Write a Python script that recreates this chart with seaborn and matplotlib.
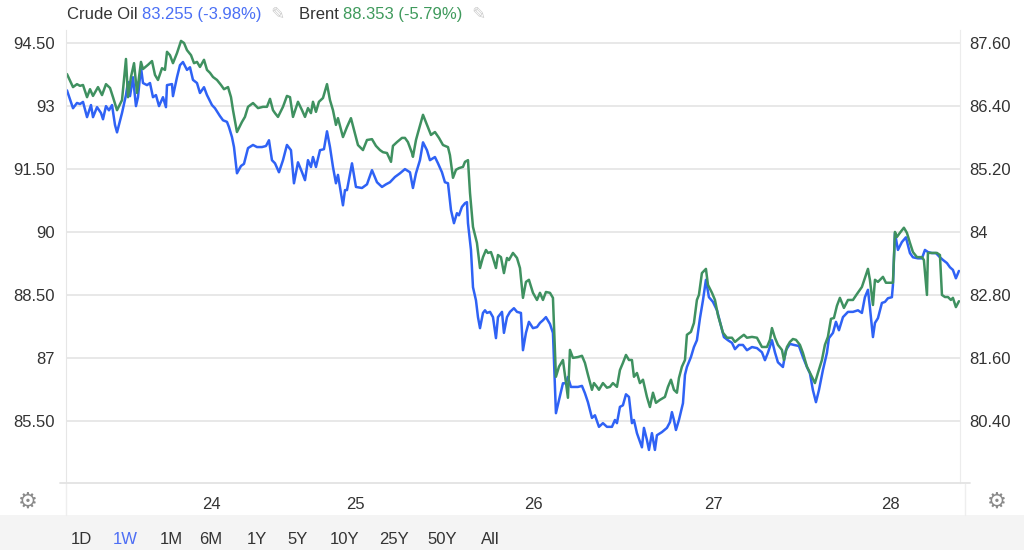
import numpy as np
import pandas as pd
import seaborn as sns
import matplotlib.pyplot as plt
from matplotlib.lines import Line2D
from matplotlib.patches import Rectangle
from matplotlib.ticker import FuncFormatter

sns.set_style("white")
plt.rcParams['font.family'] = ['Liberation Sans', 'DejaVu Sans']

# Brent (left axis), trading hours since start of window
brent_hours = [0.13, 0.94, 1.47, 1.88, 2.28, 2.82, 3.22, 3.62, 4.29, 4.83, 5.36, 5.90, 6.30, 6.84, 7.51, 8.04, 8.31, 8.71, 9.12, 9.52,
               10.05, 10.32, 10.99, 11.53, 11.93, 12.33, 12.87, 13.27, 13.54, 13.94, 14.34, 14.88, 15.42, 15.82, 16.22, 16.76, 17.16, 17.56, 17.96, 18.50,
               18.90, 19.30, 19.71, 20.24, 20.78, 21.18, 21.72, 22.12, 22.39, 22.92,
               23.59, 23.99, 24.40, 25.07, 25.74, 26.41, 26.94, 27.35, 27.75, 28.02, 28.42, 29.09, 29.62, 30.03, 30.43, 31.10, 31.64, 32.04, 32.44, 32.84,
               33.11, 33.51, 33.91, 34.45, 34.99, 35.39, 35.79, 36.19, 36.46, 37.13, 37.67, 38.20, 38.61, 39.14, 39.81, 40.35, 41.02, 41.55, 42.09, 42.49,
               43.03, 43.57, 43.83, 44.37, 45.04,
               45.44, 45.84, 46.38, 46.51, 46.92, 47.18, 47.86, 48.39, 48.93, 49.46, 50.00, 50.54, 51.21, 51.47, 51.88, 52.28, 52.68, 53.22, 53.49, 53.89,
               54.16, 54.56, 55.09, 55.50, 55.90, 56.30, 56.57, 56.97, 57.24, 57.64, 57.91, 58.31, 58.71, 59.12, 59.38, 59.92, 60.46, 60.86, 61.26, 61.66,
               62.06, 62.60, 63.14, 63.54, 63.94, 64.34, 64.88, 65.28, 65.68, 66.09, 66.62, 67.29, 67.56, 67.96,
               68.63, 69.17, 69.57, 69.97, 70.51, 70.78, 71.18, 71.45, 71.98, 72.52, 72.92, 73.32, 73.86, 74.26, 74.66, 75.07, 75.47, 75.87, 76.14, 76.54,
               76.94, 77.35, 77.88, 78.28, 78.69, 79.09, 79.62, 80.29, 80.70, 81.10, 81.50, 81.90, 82.17, 82.57, 82.98, 83.24, 83.78, 84.18, 84.58, 84.85,
               85.25, 85.79, 86.06, 86.60, 87.00, 87.40, 88.07, 88.61, 89.28, 89.68, 90.35, 90.88, 91.29, 91.96, 92.63, 93.30, 93.97, 94.37, 94.64, 95.04,
               95.44, 95.98, 96.25, 96.65, 97.05, 97.45, 97.86, 98.39, 98.79, 99.33, 100.00, 100.40, 100.80, 101.34, 101.74, 102.14, 102.55, 102.95, 103.35, 103.75,
               104.29, 104.83, 105.50, 106.03, 106.70, 107.10, 107.51, 107.77, 108.18, 108.45, 108.85, 109.52, 109.92, 110.46, 110.86, 111.13, 111.39, 111.80, 112.33, 112.73,
               113.14, 113.54, 114.08, 114.75, 115.01, 115.42, 115.55, 116.09, 116.76, 117.16, 117.43, 117.83, 118.23, 118.63, 118.90, 119.30, 119.71]
brent_price = [93.76, 93.45, 93.52, 93.48, 93.50, 93.21, 93.40, 93.24, 93.45, 93.26, 93.52, 93.43, 93.21, 92.90, 93.14, 94.12, 93.21, 93.69, 94.02, 93.31,
               94.05, 93.88, 93.98, 94.07, 93.74, 93.62, 93.90, 93.86, 94.29, 94.21, 94.02, 94.26, 94.55, 94.50, 94.33, 94.21, 94.02, 94.05, 93.93, 94.10,
               93.86, 93.79, 93.69, 93.62, 93.50, 93.40, 93.45, 93.21, 92.90, 92.38,
               92.62, 92.74, 92.98, 93.07, 92.95, 92.98, 92.98, 93.17, 92.90, 92.83, 92.74, 92.98, 93.24, 93.21, 92.74, 93.10, 92.90, 92.74, 92.95, 92.83,
               93.10, 92.86, 93.10, 93.19, 93.52, 93.14, 92.90, 92.55, 92.71, 92.26, 92.50, 92.71, 92.43, 92.07, 91.95, 92.19, 92.21, 92.05, 91.95, 91.90,
               91.88, 91.67, 92.05, 92.14, 92.24,
               92.24, 92.14, 91.88, 91.79, 92.19, 92.36, 92.79, 92.55, 92.31, 92.38, 92.24, 92.07, 92.02, 91.83, 91.29, 91.48, 91.52, 91.55, 91.67, 91.71,
               90.93, 90.12, 89.74, 89.14, 89.40, 89.57, 89.50, 89.52, 89.38, 89.14, 89.45, 89.40, 89.02, 89.38, 89.33, 89.50, 89.38, 89.14, 88.43, 88.81,
               88.86, 88.55, 88.38, 88.55, 88.38, 88.57, 88.55, 88.43, 86.55, 86.79, 86.95, 86.05, 87.19, 87.00,
               87.02, 87.05, 86.88, 86.60, 86.24, 86.40, 86.31, 86.24, 86.40, 86.29, 86.31, 86.40, 86.31, 86.71, 86.88, 87.07, 86.95, 86.95, 86.55, 86.64,
               86.40, 86.48, 86.07, 85.83, 86.17, 85.93, 86.00, 86.07, 86.31, 86.48, 86.24, 86.17, 86.52, 86.79, 86.95, 87.55, 87.62, 87.83, 88.38, 88.50,
               89.02, 89.12, 88.74, 88.55, 88.38, 88.02, 87.60, 87.48, 87.48, 87.38, 87.48, 87.55, 87.48, 87.50, 87.48, 87.26, 87.26, 87.43, 87.71, 87.48,
               87.31, 87.19, 86.95, 87.26, 87.38, 87.45, 87.43, 87.31, 87.12, 86.79, 86.55, 86.40, 86.64, 86.95, 87.31, 87.50, 87.93, 87.95, 88.24, 88.43,
               88.19, 88.38, 88.38, 88.52, 88.69, 88.90, 89.12, 88.86, 88.26, 88.86, 88.81, 88.93, 88.79, 88.79, 88.79, 90.00, 89.88, 89.98, 90.10, 89.98,
               89.74, 89.52, 89.40, 89.40, 89.33, 88.50, 89.50, 89.50, 89.50, 89.45, 88.50, 88.45, 88.45, 88.38, 88.43, 88.21, 88.35]

# Crude Oil (right axis)
crude_hours = [0.13, 0.94, 1.47, 1.88, 2.28, 2.82, 3.35, 3.62, 4.16, 4.69, 4.96, 5.36, 5.76, 6.17, 6.57, 6.84, 7.51, 8.04, 8.31, 8.58,
               8.98, 9.38, 9.65, 10.05, 10.32, 10.86, 11.26, 11.66, 12.06, 12.47, 13.00, 13.40, 13.54, 14.21, 14.34, 14.88, 15.28, 15.68, 16.22, 16.62,
               17.02, 17.56, 17.96, 18.50, 18.90, 19.57, 19.97, 20.64, 21.05, 21.58, 21.85, 22.25, 22.52, 22.92,
               23.46, 23.86, 24.40, 25.07, 25.60, 26.27, 26.81, 27.21, 27.61, 28.02, 28.55, 29.09, 29.62, 30.16, 30.56, 31.10, 31.64, 32.04, 32.44, 32.84,
               33.11, 33.51, 34.05, 34.58, 34.99, 35.39, 35.79, 36.19, 36.46, 37.13, 37.40, 37.67, 38.34, 38.87, 39.68, 40.35, 41.02, 41.69, 42.36, 42.90,
               43.43, 44.10, 44.77,
               45.44, 46.11, 46.51, 46.92, 47.45, 47.86, 48.39, 48.79, 49.46, 49.87, 50.40, 50.80, 51.21, 51.61, 52.01, 52.41, 52.68, 53.08, 53.49, 53.75,
               53.89, 54.29, 54.56, 54.96, 55.23, 55.50, 55.90, 56.17, 56.43, 56.84, 57.24, 57.64, 57.91, 58.45, 58.71, 59.12, 59.52, 60.05, 60.46, 60.99,
               61.26, 61.66, 62.06, 62.60, 63.14, 63.54, 63.94, 64.34, 64.88, 65.28, 65.68, 66.09, 66.62, 67.02, 67.29, 67.69, 68.23,
               68.63, 69.17, 69.57, 69.97, 70.51, 70.91, 71.45, 71.98, 72.52, 73.19, 73.59, 73.86, 74.26, 74.66, 75.07, 75.47, 75.87, 76.14, 76.54, 77.21,
               77.48, 77.88, 78.15, 78.55, 78.95, 79.22, 79.89, 80.56, 80.97, 81.23, 81.50, 81.77, 82.17, 82.71, 82.98, 83.24, 83.78, 84.18, 84.58, 84.99,
               85.39, 85.79, 86.19, 86.73, 87.27, 87.67, 88.20, 88.74, 89.28, 89.68, 90.21, 90.75, 91.29, 91.96, 92.63, 93.30, 93.70, 94.10, 94.64, 95.04,
               95.44, 96.11, 96.51, 97.05, 97.59, 98.26, 98.79, 99.33, 99.73, 100.13, 100.54, 100.94, 101.47, 102.01, 102.28, 102.82, 103.22, 103.62, 104.16, 104.83,
               105.50, 106.17, 106.70, 107.10, 107.51, 107.77, 108.18, 108.45, 108.85, 109.38, 109.79, 110.19, 110.72, 110.86, 111.13, 111.53, 112.06, 112.60, 113.14, 113.54,
               114.21, 114.75, 115.15, 115.55, 116.09, 116.62, 117.16, 117.56, 118.10, 118.50, 118.90, 119.30, 119.71]
crude_price = [86.70, 86.36, 86.46, 86.44, 86.48, 86.19, 86.42, 86.19, 86.38, 86.27, 86.15, 86.40, 86.32, 86.42, 86.04, 85.90, 86.27, 86.61, 86.86, 86.59,
               86.95, 86.40, 86.57, 87.14, 86.84, 86.80, 86.84, 86.57, 86.61, 86.40, 86.57, 86.38, 86.80, 86.82, 86.59, 86.95, 87.18, 87.24, 87.09, 87.14,
               86.90, 86.84, 86.65, 86.76, 86.61, 86.42, 86.36, 86.21, 86.13, 86.10, 86.00, 85.81, 85.62, 85.12,
               85.26, 85.30, 85.60, 85.66, 85.62, 85.62, 85.64, 85.75, 85.37, 85.31, 85.14, 85.37, 85.66, 85.56, 84.93, 85.33, 85.14, 84.99, 85.37, 85.24,
               85.43, 85.24, 85.56, 85.58, 85.92, 85.62, 85.24, 84.93, 85.09, 84.51, 84.80, 84.80, 85.31, 84.86, 84.84, 84.91, 85.18, 84.95, 84.86, 84.91,
               84.95, 85.05, 85.12,
               85.20, 85.14, 84.84, 85.12, 85.37, 85.71, 85.56, 85.37, 85.43, 85.31, 85.14, 84.95, 84.93, 84.42, 84.17, 84.36, 84.32, 84.48, 84.55, 84.57,
               84.17, 83.66, 82.95, 82.70, 82.38, 82.17, 82.46, 82.51, 82.46, 82.48, 82.38, 81.98, 82.38, 82.48, 82.08, 82.38, 82.48, 82.55, 82.48, 82.46,
               81.75, 82.08, 82.29, 82.17, 82.19, 82.27, 82.32, 82.38, 82.25, 82.08, 80.55, 80.80, 81.12, 81.12, 81.24, 81.05, 81.05,
               81.05, 81.07, 80.93, 80.76, 80.46, 80.51, 80.29, 80.36, 80.29, 80.29, 80.42, 80.36, 80.67, 80.70, 80.91, 80.86, 80.36, 80.42, 80.17, 79.90,
               80.27, 80.04, 79.85, 80.17, 79.85, 80.13, 80.19, 80.27, 80.38, 80.57, 80.42, 80.23, 80.42, 80.74, 81.28, 81.43, 81.62, 81.81, 81.94, 82.36,
               82.70, 83.09, 82.76, 82.67, 82.51, 82.29, 82.00, 81.94, 81.89, 81.77, 81.85, 81.85, 81.75, 81.81, 81.79, 81.71, 81.56, 81.70, 81.94, 81.71,
               81.52, 81.43, 81.75, 81.87, 81.85, 81.83, 81.62, 81.43, 81.31, 80.99, 80.76, 80.99, 81.37, 81.70, 81.98, 82.08, 82.29, 82.13, 82.38, 82.48,
               82.48, 82.51, 82.46, 82.76, 82.90, 82.57, 82.00, 82.27, 82.36, 82.65, 82.67, 82.74, 82.76, 82.99, 83.98, 83.66, 83.81, 83.90, 83.60, 83.52,
               83.50, 83.50, 83.66, 83.62, 83.60, 83.60, 83.52, 83.47, 83.41, 83.33, 83.28, 83.12, 83.26]

day_tick_hours = [19.44, 38.74, 62.73, 86.73, 110.46]
day_labels = ['24', '25', '26', '27', '28']
brent_ticks = [85.5, 87, 88.5, 90, 91.5, 93, 94.5]
crude_ticks = [80.4, 81.6, 82.8, 84, 85.2, 86.4, 87.6]
ranges = ['1D', '1W', '1M', '6M', '1Y', '5Y', '10Y', '25Y', '50Y', 'All']

BLUE = '#2f62f5'
GREEN = '#3f9160'
TXT = '#333333'
W, H = 1024, 550


def fmt(v, pos=None):
    return f"{v:.0f}" if abs(v - round(v)) < 1e-6 else f"{v:.2f}"


fig = plt.figure(figsize=(W / 100, H / 100), dpi=100)
ax = fig.add_axes([66 / W, 1 - 483 / H, (960 - 66) / W, (483 - 30) / H])
ax2 = ax.twinx()

# crude on the twin (below), brent on the main axes drawn on top
sns.lineplot(x=crude_hours, y=crude_price, ax=ax2, color=BLUE, linewidth=1.8, sort=False)
sns.lineplot(x=brent_hours, y=brent_price, ax=ax, color=GREEN, linewidth=1.8, sort=False)
ax.set_zorder(ax2.get_zorder() + 1)
ax.patch.set_visible(False)

ax.set_xlim(0, 119.85)
ax.set_ylim(84.02, 94.81)
ax2.set_ylim(79.22, 87.85)

ax.set_xticks(day_tick_hours, day_labels)
ax.set_yticks(brent_ticks)
ax2.set_yticks(crude_ticks)
ax.yaxis.set_major_formatter(FuncFormatter(fmt))
ax2.yaxis.set_major_formatter(FuncFormatter(fmt))
ax.tick_params(axis='y', length=0, pad=8, labelsize=12, labelcolor=TXT)
ax.tick_params(axis='x', length=0, pad=10, labelsize=12, labelcolor=TXT)
ax2.tick_params(axis='y', length=0, pad=7, labelsize=12, labelcolor=TXT)
for a in (ax, ax2):
    a.set_xlabel('')
    a.set_ylabel('')

# grid lives on the lower axes so it stays behind both lines
ax.grid(False)
ax2.grid(axis='y', color='#e6e6e6', linewidth=1.3)
ax2.grid(axis='x', color='#eef3f3', linewidth=1.0)
ax2.set_axisbelow(True)

for s in ['top', 'bottom', 'right']:
    ax.spines[s].set_visible(False)
ax.spines['left'].set_color('#e6e6e6')
for s in ['top', 'bottom', 'left']:
    ax2.spines[s].set_visible(False)
ax2.spines['right'].set_color('#ececec')

# x axis base line and separators
fig.add_artist(Line2D([60 / W, 970 / W], [1 - 483 / H] * 2, color='#e3e3e3', linewidth=1.3))
for xs in (66, 965):
    fig.add_artist(Line2D([xs / W] * 2, [1 - 515 / H, 1 - 484 / H], color='#eeeeee', linewidth=1))

# gear icons
for xs in (28, 997):
    fig.text(xs / W, 1 - 502 / H, '\u2699', fontsize=16, color='#8a8a8a', ha='center', va='center',
             family=['DejaVu Sans'])

# bottom range bar
fig.add_artist(Rectangle((0, 0), 1, 35 / H, transform=fig.transFigure, facecolor='#f4f4f4',
                         edgecolor='none', zorder=0))
range_x = [81, 125, 171, 211, 257, 298, 345, 394, 442, 490]
for lab, xs in zip(ranges, range_x):
    fig.text(xs / W, 1 - 540 / H, lab, fontsize=12, ha='center', va='center',
             color='#4d6ef5' if lab == '1W' else TXT)

# header legend, pieces chained left to right
pieces = [('Crude Oil ', TXT), ('83.255 (-3.98%)', '#4a6ff5'), ('  \u270e   ', '#cccccc'),
          ('Brent ', TXT), ('88.353 (-5.79%)', '#3f9a5c'), ('  \u270e', '#cccccc')]
prev = fig.text(67 / W, 1 - 22 / H, pieces[0][0], color=pieces[0][1], fontsize=12, va='bottom')
for txt, col in pieces[1:]:
    prev = ax.annotate(txt, xy=(1, 0), xycoords=prev, va='bottom', ha='left',
                       fontsize=12, color=col, annotation_clip=False)

fig.savefig('out.png', dpi=100)
